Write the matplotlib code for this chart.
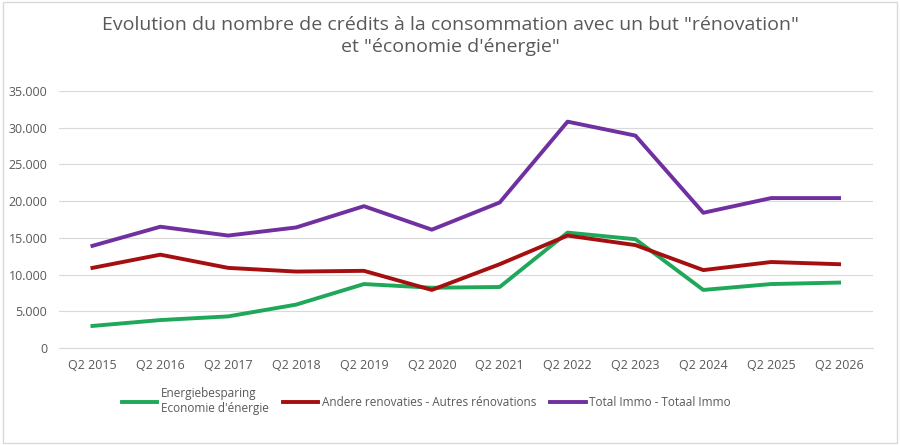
import matplotlib.pyplot as plt
from matplotlib.ticker import FuncFormatter
from matplotlib.patches import Rectangle

plt.rcParams['font.family'] = ['Open Sans', 'DejaVu Sans']

quarters = ['Q2 2015', 'Q2 2016', 'Q2 2017', 'Q2 2018', 'Q2 2019', 'Q2 2020',
            'Q2 2021', 'Q2 2022', 'Q2 2023', 'Q2 2024', 'Q2 2025', 'Q2 2026']
energie = [3000, 3800, 4300, 5900, 8700, 8200, 8300, 15700, 14800, 7900, 8700, 8900]
autres = [10900, 12700, 10900, 10400, 10500, 7900, 11400, 15300, 14000, 10600, 11700, 11400]
total = [13900, 16500, 15300, 16400, 19300, 16100, 19800, 30800, 28900, 18400, 20400, 20400]

fig = plt.figure(figsize=(9, 4.45), dpi=100)
ax = fig.add_axes([0.065, 0.218, 0.905, 0.578])
x = range(len(quarters))
ax.plot(x, energie, color='#1fa75a', lw=2.8, label="Energiebesparing\nEconomie d'énergie")
ax.plot(x, autres, color='#a50f0f', lw=2.8, label='Andere renovaties - Autres rénovations')
ax.plot(x, total, color='#7030a0', lw=2.8, label='Total Immo - Totaal Immo')

ax.set_ylim(0, 35000)
ax.set_yticks(range(0, 35001, 5000))
ax.yaxis.set_major_formatter(FuncFormatter(lambda v, p: f'{int(v):,}'.replace(',', '.')))
ax.set_xlim(-0.5, len(quarters) - 0.5)
ax.set_xticks(list(x))
ax.set_xticklabels(quarters)
ax.tick_params(length=0, labelsize=9, colors='#595959', pad=8)
ax.grid(axis='y', color='#d9d9d9', lw=0.8)
ax.set_axisbelow(True)
for s in ['top', 'right', 'left']:
    ax.spines[s].set_visible(False)
ax.spines['bottom'].set_color('#d9d9d9')

fig.suptitle('Evolution du nombre de crédits à la consommation avec un but "rénovation"\net "économie d\'énergie"',
             y=0.965, fontsize=14, color='#595959', linespacing=1.3)
leg = fig.legend(loc='upper left', bbox_to_anchor=(0.13, 0.14), ncol=3, frameon=False,
                 fontsize=8.5, handlelength=3.0, handletextpad=0.3, columnspacing=1.2,
                 borderaxespad=0)
for t in leg.get_texts():
    t.set_color('#595959')
fig.patches.append(Rectangle((0.003, 0.005), 0.994, 0.99, transform=fig.transFigure,
                             fill=False, edgecolor='#d9d9d9', lw=1))
fig.savefig('out.png', dpi=100)
